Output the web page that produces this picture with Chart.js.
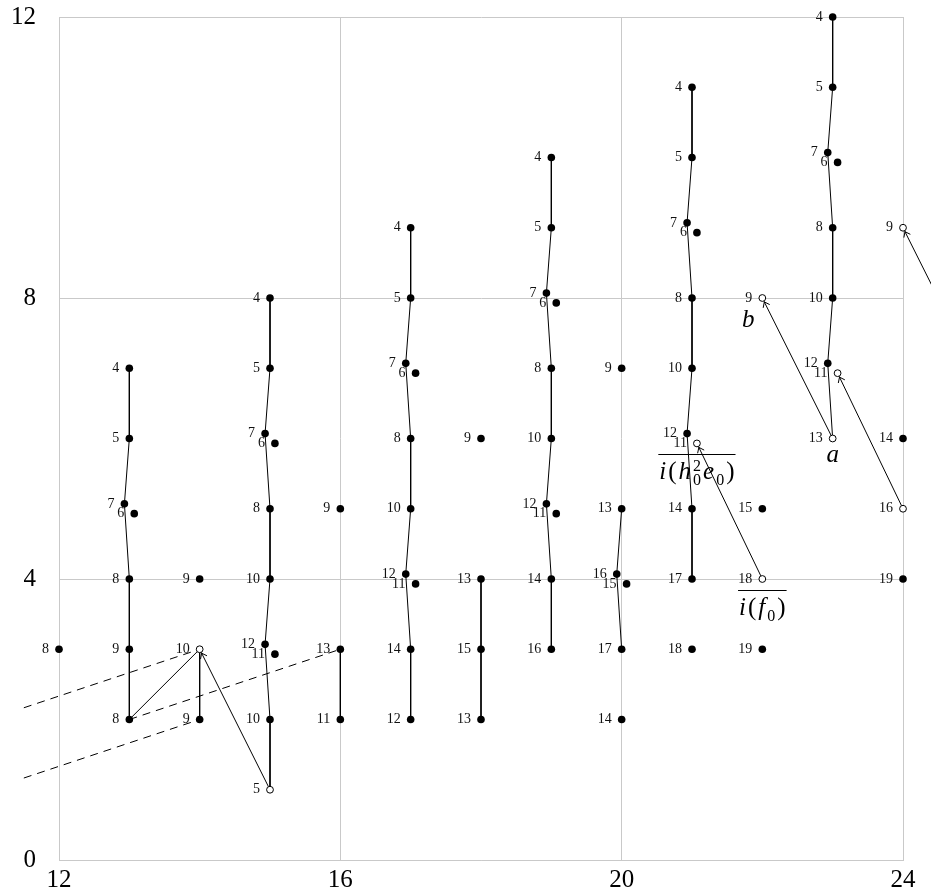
<!DOCTYPE html>
<html>
<head>
<meta charset="utf-8">
<script src="https://cdn.jsdelivr.net/npm/chart.js@4.4.0/dist/chart.umd.min.js"></script>
<style>
  html, body { margin: 0; padding: 0; background: #fff; }
</style>
</head>
<body>
<canvas id="ss" width="931" height="894"></canvas>
<script>
// axis ticks
const stemTicks = [12, 16, 20, 24];
const filtTicks = [0, 4, 8, 12];

// filled dots (one line per stem)
const dotStem = [
  12,
  13, 13, 12.93, 13.07, 13, 13, 13,
  14, 14,
  15, 15, 14.93, 15.07, 15, 15, 14.93, 15.07, 15,
  16, 16, 16,
  17, 17, 16.93, 17.07, 17, 17, 16.93, 17.07, 17, 17,
  18, 18, 18, 18,
  19, 19, 18.93, 19.07, 19, 19, 18.93, 19.07, 19, 19,
  20, 20, 19.93, 20.07, 20, 20,
  21, 21, 20.93, 21.07, 21, 21, 20.93, 21, 21, 21,
  22, 22,
  23, 23, 22.93, 23.07, 23, 23, 22.93,
  24, 24
];
const dotFilt = [
  3,
  7, 6, 5.07, 4.93, 4, 3, 2,
  4, 2,
  8, 7, 6.07, 5.93, 5, 4, 3.07, 2.93, 2,
  5, 3, 2,
  9, 8, 7.07, 6.93, 6, 5, 4.07, 3.93, 3, 2,
  6, 4, 3, 2,
  10, 9, 8.07, 7.93, 7, 6, 5.07, 4.93, 4, 3,
  7, 5, 4.07, 3.93, 3, 2,
  11, 10, 9.07, 8.93, 8, 7, 6.07, 5, 4, 3,
  5, 3,
  12, 11, 10.07, 9.93, 9, 8, 7.07,
  6, 4
];
const dotLabel = [
  '8',
  '4', '5', '7', '6', '8', '9', '8',
  '9', '9',
  '4', '5', '7', '6', '8', '10', '12', '11', '10',
  '9', '13', '11',
  '4', '5', '7', '6', '8', '10', '12', '11', '14', '12',
  '9', '13', '15', '13',
  '4', '5', '7', '6', '8', '10', '12', '11', '14', '16',
  '9', '13', '16', '15', '17', '14',
  '4', '5', '7', '6', '8', '10', '12', '14', '17', '18',
  '15', '19',
  '4', '5', '7', '6', '8', '10', '12',
  '14', '19'
];

// open dots
const ringStem  = [14, 15, 21.07, 22, 22, 23.07, 23, 24, 24];
const ringFilt  = [3, 1, 5.93, 8, 4, 6.93, 6, 9, 5];
const ringLabel = ['10', '5', '11', '9', '18', '11', '13', '9', '16'];

// solid vertical chains + one product line
const towers = [
  [[13, 7], [13, 6], [12.93, 5.07], [13, 4], [13, 3], [13, 2]],
  [[13, 2], [14, 3]],
  [[14, 3], [14, 2]],
  [[15, 8], [15, 7], [14.93, 6.07], [15, 5], [15, 4], [14.93, 3.07], [15, 2], [15, 1]],
  [[16, 3], [16, 2]],
  [[17, 9], [17, 8], [16.93, 7.07], [17, 6], [17, 5], [16.93, 4.07], [17, 3], [17, 2]],
  [[18, 4], [18, 3], [18, 2]],
  [[19, 10], [19, 9], [18.93, 8.07], [19, 7], [19, 6], [18.93, 5.07], [19, 4], [19, 3]],
  [[20, 5], [19.93, 4.07], [20, 3]],
  [[21, 11], [21, 10], [20.93, 9.07], [21, 8], [21, 7], [20.93, 6.07], [21, 5], [21, 4]],
  [[23, 12], [23, 11], [22.93, 10.07], [23, 9], [23, 8], [22.93, 7.07], [23, 6]]
];

// dashed lines
const dashLines = [
  [[11.5, 2.167], [14, 3]],
  [[11.5, 1.167], [14, 2]],
  [[13, 2], [16, 3]]
];

// differentials (from -> to)
const diffs = [
  [[15, 1], [14, 3]],
  [[22, 4], [21.07, 5.93]],
  [[23, 6], [22, 8]],
  [[24, 5], [23.07, 6.93]],
  [[25, 7], [24, 9]]
];

// named classes
const noteAt   = [[23, 6], [22, 8], [22, 4], [21.07, 5.93]];
const noteName = ['a', 'b', 'if0', 'ih0e0'];

const pts = arr => arr.map(p => ({x: p[0], y: p[1]}));

const datasets = [];
datasets.push({
  data: dotStem.map((x, i) => ({x, y: dotFilt[i]})),
  labels: dotLabel,
  pointRadius: 3.8, pointBackgroundColor: '#000', pointBorderWidth: 0,
  showLine: false, order: 0, clip: false
});
datasets.push({
  data: ringStem.map((x, i) => ({x, y: ringFilt[i]})),
  labels: ringLabel,
  pointRadius: 3.4, pointBackgroundColor: '#fff', pointBorderColor: '#000', pointBorderWidth: 1,
  showLine: false, order: 0, clip: false
});
towers.forEach(t => datasets.push({
  data: pts(t), showLine: true, pointRadius: 0, borderColor: '#000', borderWidth: 1,
  order: 1, clip: false
}));
dashLines.forEach(t => datasets.push({
  data: pts(t), showLine: true, pointRadius: 0, borderColor: '#000', borderWidth: 1,
  borderDash: [8, 6], order: 1, clip: false
}));
diffs.forEach(t => datasets.push({
  data: pts(t), showLine: true, pointRadius: 0, borderColor: '#000', borderWidth: 1,
  arrow: true, order: 1, clip: false
}));

const IT = 'italic 25px "Liberation Serif"';
const RM = '25px "Liberation Serif"';
const SM = '16px "Liberation Serif"';

function formula(ctx, parts, cx, by, gap, lineY) {
  const ws = parts.map(p => {
    ctx.font = p.f;
    return Math.max(...p.t.map(s => ctx.measureText(s).width));
  });
  const total = ws.reduce((a, b) => a + b, 0) + gap * (parts.length - 1);
  let x = cx - total / 2;
  ctx.textAlign = 'left';
  ctx.textBaseline = 'alphabetic';
  parts.forEach((p, k) => {
    ctx.font = p.f;
    p.t.forEach((s, j) => ctx.fillText(s, x, by + p.dy[j]));
    x += ws[k] + gap;
  });
  if (lineY != null) {
    ctx.beginPath();
    ctx.moveTo(cx - total / 2 - 1, Math.round(lineY) + 0.5);
    ctx.lineTo(cx + total / 2 + 1, Math.round(lineY) + 0.5);
    ctx.stroke();
  }
}

const decor = {
  id: 'decor',
  afterDatasetsDraw(chart) {
    const ctx = chart.ctx;
    ctx.save();
    ctx.strokeStyle = '#000';
    ctx.fillStyle = '#111';
    ctx.lineWidth = 1;

    // arrowheads
    chart.data.datasets.forEach((ds, i) => {
      if (!ds.arrow) return;
      const [p, q] = chart.getDatasetMeta(i).data;
      const ang = Math.atan2(q.y - p.y, q.x - p.x);
      const tx = q.x - Math.cos(ang) * 4.4, ty = q.y - Math.sin(ang) * 4.4;
      ctx.beginPath();
      [-1, 1].forEach(s => {
        const a = ang + Math.PI + s * 0.65;
        ctx.moveTo(tx + Math.cos(a) * 6, ty + Math.sin(a) * 6);
        ctx.lineTo(tx, ty);
      });
      ctx.stroke();
    });

    // node labels
    ctx.font = '14px "Liberation Serif"';
    ctx.textAlign = 'right';
    ctx.textBaseline = 'middle';
    chart.data.datasets.forEach((ds, i) => {
      if (!ds.labels) return;
      chart.getDatasetMeta(i).data.forEach((pt, j) => ctx.fillText(ds.labels[j], pt.x - 10, pt.y));
    });

    // class names
    const sx = chart.scales.x, sy = chart.scales.y;
    ctx.fillStyle = '#000';
    noteAt.forEach((v, k) => {
      const px = sx.getPixelForValue(v[0]), py = sy.getPixelForValue(v[1]);
      const name = noteName[k];
      if (name === 'a') {
        formula(ctx, [{t: ['a'], f: IT, dy: [0]}], px, py + 23, 0, null);
      } else if (name === 'b') {
        formula(ctx, [{t: ['b'], f: IT, dy: [0]}], px - 14, py + 29, 0, null);
      } else if (name === 'if0') {
        formula(ctx, [
          {t: ['i'], f: IT, dy: [0]}, {t: ['('], f: RM, dy: [0]}, {t: ['f'], f: IT, dy: [0]},
          {t: ['0'], f: SM, dy: [6]}, {t: [')'], f: RM, dy: [0]}
        ], px, py + 36, 2, py + 11);
      } else {
        formula(ctx, [
          {t: ['i'], f: IT, dy: [0]}, {t: ['('], f: RM, dy: [0]}, {t: ['h'], f: IT, dy: [0]},
          {t: ['2', '0'], f: SM, dy: [-8, 6]}, {t: ['e'], f: IT, dy: [0]},
          {t: ['0'], f: SM, dy: [6]}, {t: [')'], f: RM, dy: [0]}
        ], px, py + 36, 2, py + 11);
      }
    });
    ctx.restore();
  }
};

const gridCol = '#c9c9c9';
const tickFont = {family: 'Liberation Serif', size: 25};

new Chart(document.getElementById('ss'), {
  type: 'scatter',
  data: {datasets},
  options: {
    responsive: false,
    animation: false,
    events: [],
    layout: {padding: {left: 0, top: 17, right: 28, bottom: 0}},
    plugins: {legend: {display: false}, tooltip: {enabled: false}},
    scales: {
      x: {
        type: 'linear', min: 12, max: 24,
        afterBuildTicks: s => { s.ticks = stemTicks.map(v => ({value: v})); },
        afterFit: s => { s.height = 34; s.paddingLeft = 0; s.paddingRight = 0; s.paddingTop = 0; s.paddingBottom = 0; },
        grid: {color: gridCol, lineWidth: 1, drawTicks: false},
        border: {color: gridCol},
        ticks: {font: tickFont, color: '#000', padding: 5, maxRotation: 0, autoSkip: false}
      },
      y: {
        type: 'linear', min: 0, max: 12,
        afterBuildTicks: s => { s.ticks = filtTicks.map(v => ({value: v})); },
        afterFit: s => { s.width = 59; s.paddingLeft = 0; s.paddingRight = 0; s.paddingTop = 0; s.paddingBottom = 0; },
        grid: {color: gridCol, lineWidth: 1, drawTicks: false},
        border: {color: gridCol},
        ticks: {font: tickFont, color: '#000', padding: 23, autoSkip: false}
      }
    }
  },
  plugins: [decor]
});
</script>
</body>
</html>
